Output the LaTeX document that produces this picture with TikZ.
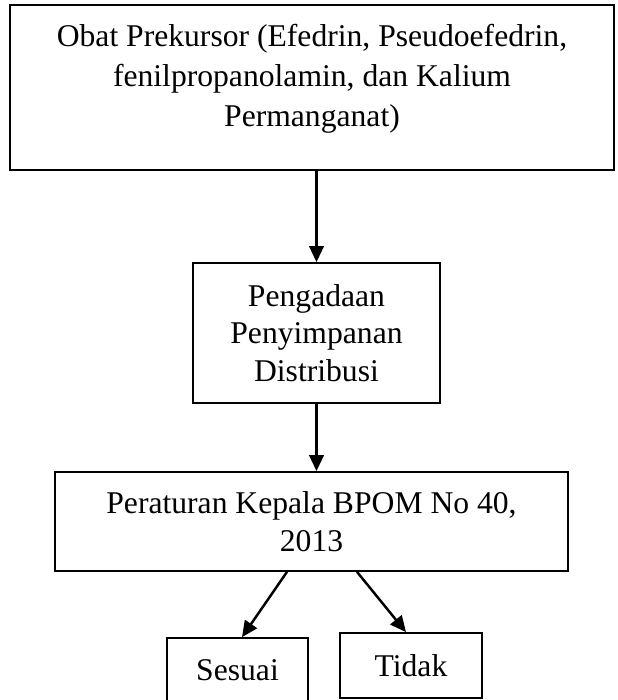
\documentclass[tikz,border=0pt]{standalone}
\usepackage{fontspec}
\setmainfont{Liberation Serif}
\usetikzlibrary{arrows.meta,calc,positioning}
\tikzset{
kotak/.style={
  rectangle,
  line width=1pt,
  inner sep=0pt,
  align=center,
  draw=black,
  font=\fontsize{18}{21.5}\selectfont,
  }
}
\tikzset{
panah/.style={
  line width=1.4pt,
  -{Triangle[length=3.2mm,width=2.9mm]}
  }
}

\begin{document}
\begin{tikzpicture}[scale=1.0]
    \useasboundingbox (0,0) rectangle (12.34,14.0);
    \clip (0,0) rectangle (12.34,14.0);

    % obat prekursor
    \node[kotak, minimum width=12.08cm, minimum height=3.3cm, text width=12cm, align=flush center, text height=0.43cm, text depth=2.05cm, font=\fontsize{18}{22.5}\selectfont] (prek) at (6.24,12.25) {Obat Prekursor (Efedrin, Pseudoefedrin,\\ fenilpropanolamin, dan Kalium\\ Permanganat)};

    % kegiatan
    \node[kotak, minimum width=4.94cm, minimum height=2.8cm] (keg) at (6.33,7.34) {Pengadaan\\ Penyimpanan\\ Distribusi};

    % peraturan
    \node[kotak, minimum width=10.26cm, minimum height=1.98cm] (perka) at (6.23,3.57) {Peraturan Kepala BPOM No 40,\\ 2013};

    % hasil
    \node[kotak, minimum width=2.82cm, minimum height=1.3cm] (sesuai) at (4.75,0.59) {Sesuai};
    \node[kotak, minimum width=2.84cm, minimum height=1.3cm] (tidak) at (8.22,0.69) {Tidak};

    % edges
    \draw[panah] (prek.south -| keg.north) -- (keg.north);
    \draw[panah] (keg.south) -- (keg.south |- perka.north);
    \draw[panah] ($(perka.south)+(-0.49,0)$) -- ($(sesuai.north)+(0.09,0)$);
    \draw[panah] ($(perka.south)+(0.91,0)$) -- ($(tidak.north)+(-0.1,0)$);
\end{tikzpicture}
\end{document}
